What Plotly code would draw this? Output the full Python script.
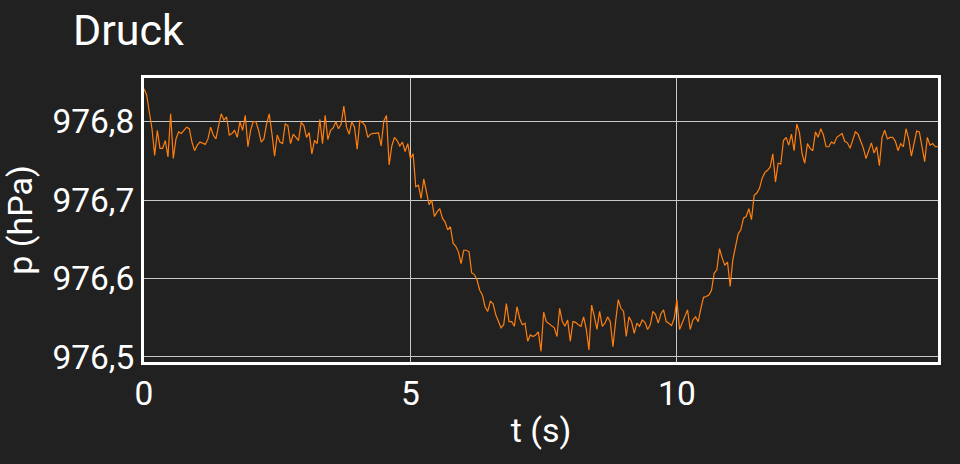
import numpy as np
import plotly.graph_objects as go

# time step of the sampled series (s)
dt = 0.05

# pressure readings (hPa), one per dt starting at t = 0
pressure = [
    976.842, 976.834, 976.812, 976.791, 976.757, 976.789, 976.766, 976.766, 976.776, 976.755,
    976.810, 976.753, 976.778, 976.787, 976.785, 976.789, 976.793, 976.791, 976.774, 976.763,
    976.770, 976.774, 976.772, 976.771, 976.778, 976.793, 976.783, 976.778, 976.795, 976.810,
    976.802, 976.806, 976.783, 976.785, 976.789, 976.780, 976.800, 976.789, 976.808, 976.768,
    976.789, 976.800, 976.800, 976.789, 976.774, 976.778, 976.797, 976.810, 976.785, 976.756,
    976.783, 976.774,
    976.772, 976.797, 976.795, 976.772, 976.784, 976.780, 976.776, 976.799, 976.795, 976.780,
    976.786, 976.759, 976.776, 976.772, 976.803, 976.772, 976.808, 976.777, 976.789, 976.792,
    976.800, 976.791, 976.797, 976.820, 976.793, 976.784, 976.800, 976.793, 976.765, 976.801,
    976.799, 976.795, 976.780, 976.784, 976.785, 976.785, 976.786, 976.769, 976.801, 976.808,
    976.745, 976.769, 976.780, 976.776, 976.769, 976.774, 976.762, 976.772, 976.753,
    976.759, 976.717, 976.719, 976.702, 976.727, 976.711, 976.694, 976.700, 976.679, 976.685,
    976.689, 976.677, 976.672, 976.662, 976.666, 976.645, 976.641, 976.634, 976.619, 976.636,
    976.636, 976.634, 976.607, 976.605, 976.598, 976.585, 976.579, 976.564, 976.558, 976.571,
    976.568, 976.554, 976.545, 976.537, 976.541, 976.568, 976.545, 976.545, 976.539, 976.564,
    976.549, 976.541, 976.543, 976.520, 976.528, 976.526, 976.528,
    976.532, 976.507, 976.557, 976.545, 976.542, 976.540, 976.537, 976.526, 976.562, 976.545,
    976.539, 976.547, 976.520, 976.545, 976.544, 976.541, 976.539, 976.551, 976.535, 976.509,
    976.566, 976.552, 976.535, 976.558, 976.539, 976.543, 976.551, 976.545, 976.513, 976.545,
    976.573, 976.562, 976.558, 976.526, 976.551, 976.545, 976.530, 976.543, 976.539, 976.547,
    976.544, 976.535, 976.541, 976.558, 976.554, 976.543, 976.555, 976.560, 976.545, 976.543,
    976.540, 976.549, 976.573, 976.535, 976.544, 976.552, 976.560,
    976.535, 976.547, 976.551, 976.545, 976.562, 976.576, 976.577, 976.579, 976.585, 976.607,
    976.611, 976.638, 976.626, 976.617, 976.621, 976.590, 976.624, 976.643, 976.657, 976.662,
    976.677, 976.679, 976.689, 976.675, 976.706, 976.709, 976.715, 976.728, 976.735, 976.738,
    976.742, 976.759, 976.723, 976.747, 976.746, 976.776, 976.780, 976.770, 976.784, 976.763,
    976.797, 976.786, 976.759, 976.747, 976.772,
    976.766, 976.763, 976.787, 976.780, 976.791, 976.783, 976.768, 976.768, 976.774, 976.772,
    976.780, 976.783, 976.785, 976.775, 976.773, 976.766, 976.778, 976.787, 976.784, 976.774,
    976.766, 976.753, 976.764, 976.773, 976.760, 976.768, 976.744, 976.780, 976.789, 976.778,
    976.780, 976.780, 976.775, 976.763, 976.772, 976.768, 976.791, 976.778, 976.756, 976.772,
    976.788, 976.787, 976.770, 976.749, 976.780, 976.770, 976.772, 976.768, 976.768,
]

t = np.arange(len(pressure)) * dt

x_range = [0, 14.9]
y_range = [976.4935, 976.8557]
x_ticks = [0, 5, 10]
y_ticks = [976.5, 976.6, 976.7, 976.8]

title_text = "Druck"
x_title = "t (s)"
y_title = "p (hPa)"

bg = "#212121"
font = "Roboto"

fig = go.Figure()
fig.add_trace(go.Scatter(
    x=t, y=pressure, mode="lines",
    line=dict(color="#ff7f0e", width=1.2),
    showlegend=False, hoverinfo="skip",
))

axis_common = dict(
    showgrid=True, gridcolor="#c8c8c8", gridwidth=1,
    showline=True, linecolor="white", linewidth=3, mirror=True,
    zeroline=False, ticks="",
    tickfont=dict(family=font, size=33.5, color="white"),
)

fig.update_layout(
    width=960, height=464,
    paper_bgcolor=bg, plot_bgcolor=bg,
    margin=dict(l=144, r=22, t=78, b=102),
    separators=",.",
    font=dict(family=font, color="white"),
    title=dict(
        text=title_text, font=dict(family=font, size=43, color="white"),
        x=73 / 960, xanchor="left", xref="container",
        y=1 - 30 / 464, yanchor="middle", yref="container",
    ),
    xaxis=dict(
        range=x_range, tickvals=x_ticks,
        title=dict(text=x_title, font=dict(family=font, size=34, color="white"), standoff=6),
        **axis_common,
    ),
    yaxis=dict(
        range=y_range, tickvals=y_ticks, tickformat=".1f",
        title=dict(text=y_title, font=dict(family=font, size=34, color="white"), standoff=10),
        **axis_common,
    ),
)

fig.write_html(
    "out.html",
    config={"displayModeBar": False, "responsive": False},
    post_script="document.body.style.margin='0';document.body.style.background='#212121';document.body.style.overflow='hidden';",
)
